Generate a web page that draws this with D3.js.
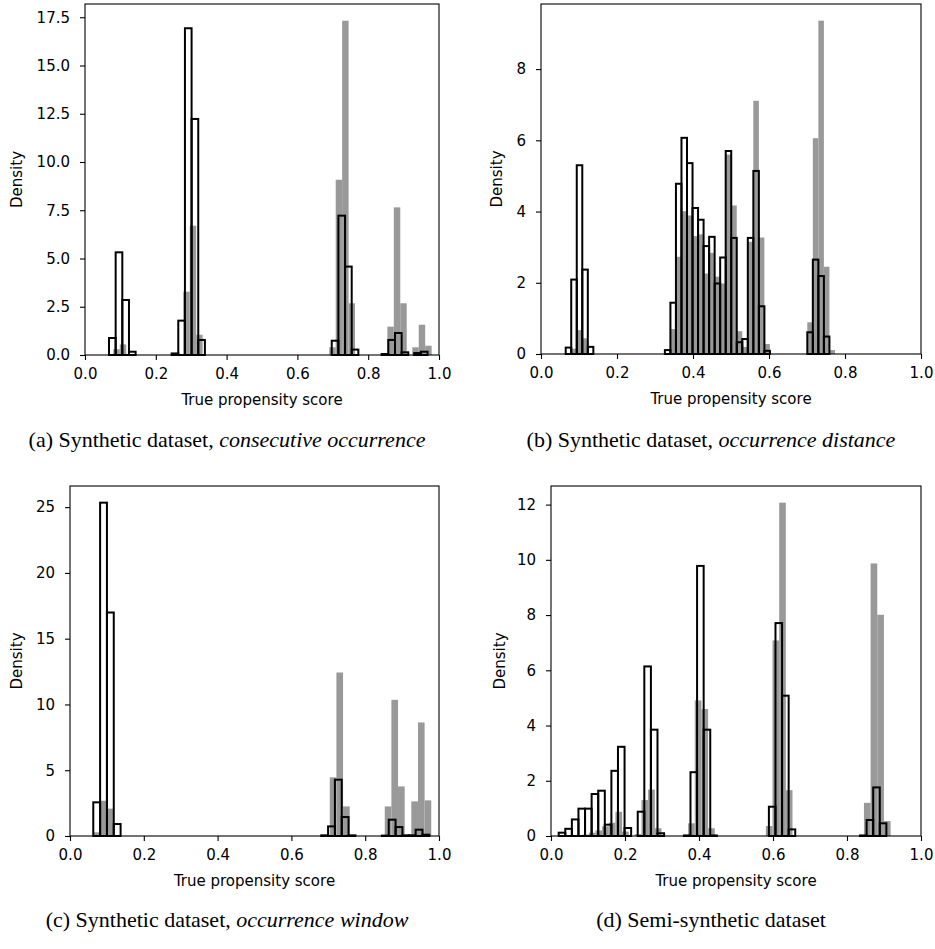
<!DOCTYPE html>
<html>
<head>
<meta charset="utf-8">
<script src="https://cdn.jsdelivr.net/npm/d3@7"></script>
<style>
  body { margin: 0; background: #fff; }
  svg text { font-family: "DejaVu Sans", sans-serif; }
  .cap { font-family: "Liberation Serif", "Times New Roman", serif; }
</style>
</head>
<body>
<div id="viz"></div>
<script>
// four propensity score histograms, gray = treated, black outline = control

var width = 935, height = 949;

var xTicks = [0, 0.2, 0.4, 0.6, 0.8, 1.0];

// (a) consecutive occurrence
var aYTicks = [0, 2.5, 5, 7.5, 10, 12.5, 15, 17.5];
var aTreatW = 0.0182;
var aTreatStart = [0.080, 0.2777, 0.690, 0.836, 0.9246];
var aTreatDens = [[0.3, 0.55], [3.28, 6.7, 1.05], [0.4, 9.08, 17.32, 2.68], [0.1, 1.47, 7.65, 2.68], [0.4, 1.57, 0.48]];
var aCtrlW = 0.0188;
var aCtrlStart = [0.0678, 0.2447, 0.697, 0.838, 0.930];
var aCtrlDens = [[0.88, 5.32, 2.85, 0.17], [0.08, 1.78, 16.93, 12.23, 0.78], [0.74, 7.22, 4.58, 0.28], [0.05, 0.78, 1.14, 0.14], [0.1, 0.17]];

// (b) occurrence distance
var bYTicks = [0, 2, 4, 6, 8];
var bTreatW = 0.01455;
var bTreatStart = [0.0796, 0.3405, 0.7008];
var bTreatDens = [[0.15, 0.67, 0.44],
  [0.7, 2.73, 4.01, 3.89, 3.31, 3.36, 2.26, 2.84, 2.17, 1.98, 5.6, 4.17, 0.64, 0.2, 3.15, 7.11, 3.27, 0.28],
  [0.89, 6.06, 9.36, 2.45, 0.11]];
var bCtrlW = 0.01455;
var bCtrlStart = [0.065, 0.326, 0.7008];
var bCtrlDens = [[0.18, 2.09, 5.3, 2.37, 0.2],
  [0.11, 1.44, 4.78, 6.07, 5.36, 4.1, 3.77, 3.03, 3.29, 1.98, 2.71, 5.7, 3.26, 0.33, 0.42, 3.26, 5.14, 1.34, 0.09],
  [0.61, 2.65, 2.19, 0.49]];

// (c) occurrence window
var cYTicks = [0, 5, 10, 15, 20, 25];
var cTreatW = 0.018;
var cTreatStart = [0.0631, 0.704, 0.853, 0.925];
var cTreatDens = [[0.28, 2.68, 2.08], [4.46, 12.43, 2.25], [2.25, 10.35, 3.77], [2.63, 8.63, 2.71]];
var cCtrlW = 0.0185;
var cCtrlStart = [0.0631, 0.6809, 0.8453, 0.9182];
var cCtrlDens = [[2.56, 25.34, 16.99, 0.91], [0.05, 0.73, 4.28, 1.44, 0.05], [0.03, 1.24, 0.68, 0.05], [0.05, 0.48, 0.1]];

// (d) semi-synthetic
var dYTicks = [0, 2, 4, 6, 8, 10, 12];
var dTreatW = 0.018;
var dTreatStart = [0.0842, 0.2265, 0.3706, 0.5807, 0.8458];
var dTreatDens = [[0.05, 0.12, 0.2, 0.35, 0.48, 0.88, 0.16], [0.07, 1.3, 1.68, 0.28], [0.46, 4.91, 4.6, 0.28], [0.36, 7.08, 12.07, 1.66], [1.2, 9.87, 8.01, 0.54]];
var dCtrlW = 0.0178;
var dCtrlStart = [0.0208, 0.3592, 0.5889, 0.8352];
var dCtrlDens = [[0.12, 0.26, 0.6, 0.99, 0.99, 1.52, 1.64, 0.41, 2.36, 3.23, 0.29, 0, 0.88, 6.14, 3.85, 0.1],
  [0.02, 2.31, 9.78, 3.85, 0.02], [1.06, 7.71, 5.08, 0.24], [0.02, 0.58, 1.76, 0.46]];

function toBars(starts, w, dens) {
	var out = [];
	starts.forEach(function (s, i) {
		dens[i].forEach(function (v, j) {
			out.push({x0: s + j * w, x1: s + (j + 1) * w, y: v});
		});
	});
	return out;
}

var panels = [
	{left: 85, right: 439, top: 4, bottom: 355, ticks: aYTicks, fmt: ".1f", ylabX: 17, capX: 227, capY: 447,
	 cap: "(a) Synthetic dataset, ", capIt: "consecutive occurrence",
	 treat: toBars(aTreatStart, aTreatW, aTreatDens), ctrl: toBars(aCtrlStart, aCtrlW, aCtrlDens)},
	{left: 541, right: 921, top: 4, bottom: 354, ticks: bYTicks, fmt: "d", ylabX: 497, capX: 711, capY: 447,
	 cap: "(b) Synthetic dataset, ", capIt: "occurrence distance",
	 treat: toBars(bTreatStart, bTreatW, bTreatDens), ctrl: toBars(bCtrlStart, bCtrlW, bCtrlDens)},
	{left: 70, right: 439, top: 486, bottom: 836, ticks: cYTicks, fmt: "d", ylabX: 17, capX: 227, capY: 927,
	 cap: "(c) Synthetic dataset, ", capIt: "occurrence window",
	 treat: toBars(cTreatStart, cTreatW, cTreatDens), ctrl: toBars(cCtrlStart, cCtrlW, cCtrlDens)},
	{left: 551, right: 921, top: 486, bottom: 836, ticks: dYTicks, fmt: "d", ylabX: 500, capX: 711, capY: 927,
	 cap: "(d) Semi-synthetic dataset", capIt: "",
	 treat: toBars(dTreatStart, dTreatW, dTreatDens), ctrl: toBars(dCtrlStart, dCtrlW, dCtrlDens)}
];

var svg = d3.select("#viz")
	.append("svg")
		.attr("width", width)
		.attr("height", height);

panels.forEach(function (p) {
	var allY = p.treat.concat(p.ctrl).map(function (d) { return d.y; });
	var yMax = d3.max(allY) * 1.05;
	var x = d3.scaleLinear().domain([0, 1]).range([p.left, p.right]);
	var y = d3.scaleLinear().domain([0, yMax]).range([p.bottom, p.top]);
	var g = svg.append("g");

	g.selectAll("rect.treat")
		.data(p.treat)
		.enter()
		.append("rect")
			.attr("class", "treat")
			.attr("x", function (d) { return x(d.x0); })
			.attr("y", function (d) { return y(d.y); })
			.attr("width", function (d) { return x(d.x1) - x(d.x0); })
			.attr("height", function (d) { return y(0) - y(d.y); })
			.attr("fill", "#999999");

	g.selectAll("rect.ctrl")
		.data(p.ctrl)
		.enter()
		.append("rect")
			.attr("class", "ctrl")
			.attr("x", function (d) { return x(d.x0); })
			.attr("y", function (d) { return y(d.y); })
			.attr("width", function (d) { return x(d.x1) - x(d.x0); })
			.attr("height", function (d) { return y(0) - y(d.y); })
			.attr("fill", "none")
			.attr("stroke", "#000")
			.attr("stroke-width", 2);

	// axes
	var xa = g.append("g")
		.attr("transform", "translate(0," + p.bottom + ")")
		.call(d3.axisBottom(x).tickValues(xTicks).tickFormat(d3.format(".1f")).tickSize(5).tickPadding(8));
	var ya = g.append("g")
		.attr("transform", "translate(" + p.left + ",0)")
		.call(d3.axisLeft(y).tickValues(p.ticks).tickFormat(d3.format(p.fmt)).tickSize(5).tickPadding(10));
	[xa, ya].forEach(function (a) {
		a.select(".domain").remove();
		a.selectAll("line").attr("stroke", "#000").attr("stroke-width", 1.1);
		a.selectAll("text").attr("font-size", 15).attr("fill", "#000")
			.style("font-family", "'DejaVu Sans', sans-serif");
	});

	g.append("rect")
		.attr("x", p.left).attr("y", p.top)
		.attr("width", p.right - p.left).attr("height", p.bottom - p.top)
		.attr("fill", "none").attr("stroke", "#000").attr("stroke-width", 1.1);

	g.append("text")
		.text("True propensity score")
		.attr("x", (p.left + p.right) / 2)
		.attr("y", p.bottom + 50)
		.attr("text-anchor", "middle")
		.attr("font-size", 15);

	g.append("text")
		.text("Density")
		.attr("transform", "translate(" + p.ylabX + "," + ((p.top + p.bottom) / 2) + ") rotate(-90)")
		.attr("dy", "0.35em")
		.attr("text-anchor", "middle")
		.attr("font-size", 15);

	var cap = g.append("text")
		.attr("class", "cap")
		.attr("x", p.capX)
		.attr("y", p.capY)
		.attr("text-anchor", "middle")
		.attr("font-size", 22);
	cap.append("tspan").text(p.cap);
	if (p.capIt) cap.append("tspan").attr("font-style", "italic").text(p.capIt);
});

// The End
</script>
</body>
</html>
